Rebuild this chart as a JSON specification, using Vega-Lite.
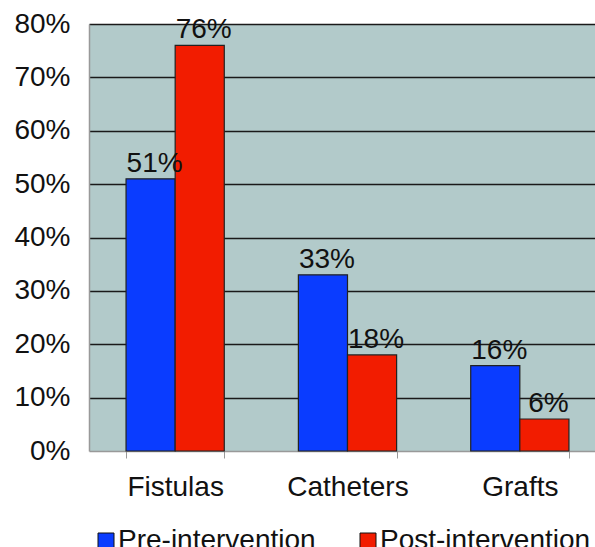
{
  "$schema": "https://vega.github.io/schema/vega-lite/v6.json",
  "autosize": {"type": "none"},
  "padding": {"left": 89, "top": 24, "right": 0, "bottom": 96},
  "width": 517,
  "height": 427,
  "background": "white",
  "config": {
    "font": "Liberation Sans",
    "view": {"fill": "#b2caca", "stroke": null}
  },
  "data": {
    "values": [
      {"type": "Fistulas", "period": "Pre-intervention", "value": 0.51, "label": "51%"},
      {"type": "Fistulas", "period": "Post-intervention", "value": 0.76, "label": "76%"},
      {"type": "Catheters", "period": "Pre-intervention", "value": 0.33, "label": "33%"},
      {"type": "Catheters", "period": "Post-intervention", "value": 0.18, "label": "18%"},
      {"type": "Grafts", "period": "Pre-intervention", "value": 0.16, "label": "16%"},
      {"type": "Grafts", "period": "Post-intervention", "value": 0.06, "label": "6%"}
    ]
  },
  "encoding": {
    "x": {
      "field": "type", "type": "nominal", "sort": ["Fistulas", "Catheters", "Grafts"],
      "scale": {"paddingInner": 0.43, "paddingOuter": 0.215},
      "axis": {
        "title": null, "labelAngle": 0, "labelFontSize": 28, "labelColor": "#111",
        "labelPadding": 15, "domainColor": "#999", "domainWidth": 1.5,
        "tickColor": "#999", "tickSize": 7, "tickBand": "extent", "grid": false
      }
    },
    "xOffset": {
      "field": "period", "type": "nominal", "sort": ["Pre-intervention", "Post-intervention"],
      "scale": {"paddingInner": 0, "paddingOuter": 0}
    },
    "y": {
      "field": "value", "type": "quantitative",
      "scale": {"domain": [0, 0.8], "nice": false},
      "axis": {
        "title": null, "format": ".0%", "values": [0, 0.1, 0.2, 0.3, 0.4, 0.5, 0.6, 0.7, 0.8],
        "labelFontSize": 28, "labelColor": "#111", "labelPadding": 19, "ticks": false,
        "domainColor": "#999", "domainWidth": 1.5,
        "grid": true, "gridWidth": 1.5,
        "gridColor": {"condition": {"test": "datum.value === 0", "value": "transparent"}, "value": "#1a1a1a"}
      }
    }
  },
  "layer": [
    {
      "mark": {"type": "bar", "stroke": "#222", "strokeWidth": 1.2},
      "encoding": {
        "color": {
          "field": "period", "type": "nominal", "sort": ["Pre-intervention", "Post-intervention"],
          "scale": {"domain": ["Pre-intervention", "Post-intervention"], "range": ["#0a3cff", "#f21c00"]},
          "legend": {
            "title": null, "orient": "none", "direction": "horizontal",
            "legendX": 3, "legendY": 503, "padding": 0,
            "symbolType": "square", "symbolSize": 256, "symbolStrokeColor": "#111",
            "symbolStrokeWidth": 1, "symbolOpacity": 1,
            "labelFontSize": 28, "labelColor": "#111", "labelOffset": -2,
            "columnPadding": 38, "labelLimit": 400
          }
        }
      }
    },
    {
      "mark": {"type": "text", "fontSize": 28, "color": "#111", "baseline": "alphabetic", "dy": -7, "dx": 4},
      "encoding": {
        "text": {"field": "label"}
      }
    }
  ]
}
